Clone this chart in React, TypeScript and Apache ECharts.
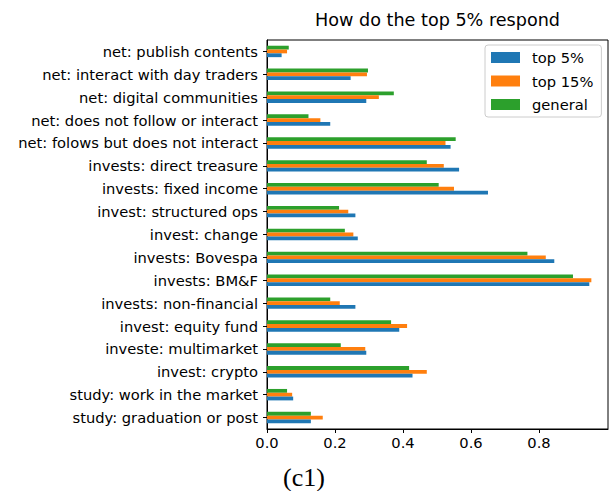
import React, { useEffect, useRef } from "react";
import * as echarts from "echarts";

const categories = [
  "study: graduation or post",
  "study: work in the market",
  "invest: crypto",
  "investe: multimarket",
  "invest: equity fund",
  "invests: non-financial",
  "invests: BM&F",
  "invests: Bovespa",
  "invest: change",
  "invest: structured ops",
  "invests: fixed income",
  "invests: direct treasure",
  "net: folows but does not interact",
  "net: does not follow or interact",
  "net: digital communities",
  "net: interact with day traders",
  "net: publish contents",
];

const top5 = [0.129, 0.077, 0.428, 0.292, 0.389, 0.26, 0.948, 0.845, 0.267, 0.26, 0.65, 0.565, 0.54, 0.186, 0.292, 0.246, 0.043];
const top15 = [0.164, 0.074, 0.47, 0.289, 0.412, 0.214, 0.954, 0.82, 0.254, 0.239, 0.55, 0.52, 0.525, 0.157, 0.329, 0.294, 0.059];
const general = [0.129, 0.059, 0.418, 0.217, 0.365, 0.186, 0.9, 0.766, 0.229, 0.212, 0.505, 0.47, 0.555, 0.122, 0.373, 0.297, 0.064];

const xTicks = [0, 0.2, 0.4, 0.6, 0.8];

const FONT = "DejaVu Sans";
const FS = 14.7;

export default function App() {
  const ref = useRef<HTMLDivElement>(null);
  useEffect(() => {
    const chart = echarts.init(ref.current!, null, { renderer: "svg" });
    const gridLeft = 267;
    const gridRight = 608;
    const gridTop = 40;
    const gridBottom = 429;
    const barCommon = { type: "bar", barGap: "0%", barCategoryGap: "50%" };
    chart.setOption({
      animation: false,
      grid: {
        left: gridLeft,
        top: gridTop,
        width: gridRight - gridLeft,
        height: gridBottom - gridTop,
        show: true,
        borderColor: "#000",
        borderWidth: 1,
        containLabel: false,
      },
      legend: {
        orient: "vertical",
        left: 485,
        top: 45,
        itemWidth: 29,
        itemHeight: 11,
        itemGap: 8.5,
        padding: [5, 8, 5, 6],
        borderColor: "#cccccc",
        borderWidth: 1,
        borderRadius: 3,
        backgroundColor: "#fff",
        icon: "rect",
        textStyle: { fontFamily: FONT, fontSize: FS, color: "#000", lineHeight: 14, padding: [0, 0, 0, 7] },
        data: ["top 5%", "top 15%", "general"],
      },
      xAxis: {
        type: "value",
        min: 0,
        max: 1.003,
        splitLine: { show: false },
        axisLine: { show: true, lineStyle: { color: "#000" } },
        axisTick: { show: true, length: 4, lineStyle: { color: "#000" }, customValues: xTicks },
        axisLabel: {
          fontFamily: FONT,
          fontSize: FS,
          color: "#000",
          margin: 6,
          customValues: xTicks,
          formatter: (v: number) => v.toFixed(1),
        },
      },
      yAxis: {
        type: "category",
        data: categories,
        axisLine: { show: true, lineStyle: { color: "#000" } },
        axisTick: { show: true, alignWithLabel: true, length: 4, lineStyle: { color: "#000" } },
        axisLabel: { fontFamily: FONT, fontSize: FS, color: "#000", margin: 9 },
      },
      graphic: [
        {
          type: "text",
          x: (gridLeft + gridRight) / 2,
          y: 20,
          style: {
            text: "How do the top 5% respond",
            font: `17.6px '${FONT}'`,
            fill: "#000",
            align: "center",
            verticalAlign: "middle",
          },
        },
        {
          type: "text",
          x: 304,
          y: 477,
          style: { text: "(c1)", font: "26px 'Liberation Serif'", fill: "#000", align: "center", verticalAlign: "middle" },
        },
      ],
      series: [
        { ...barCommon, name: "general", data: general, itemStyle: { color: "#2ca02c" } },
        { ...barCommon, name: "top 15%", data: top15, itemStyle: { color: "#ff7f0e" } },
        { ...barCommon, name: "top 5%", data: top5, itemStyle: { color: "#1f77b4" } },
      ],
    });
    return () => chart.dispose();
  }, []);
  return <div ref={ref} style={{ position: "absolute", left: 0, top: 0, width: 614, height: 491 }} />;
}
